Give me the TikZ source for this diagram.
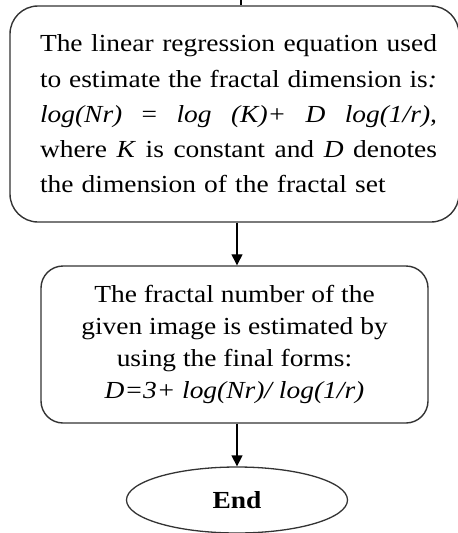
\documentclass[tikz,border=0pt]{standalone}
\usepackage{fontspec}
\setmainfont{Liberation Serif}[FakeStretch=1.12]
\usetikzlibrary{shapes.geometric,arrows.meta}
\newcommand{\fullline}[1]{\leavevmode\hspace*{8pt}\hbox to 397pt{\spaceskip=0pt\xspaceskip=0pt\relax #1}}
\begin{document}
\begin{tikzpicture}[x=1pt,y=1pt,
  boxstyle/.style={draw=black!80,line width=1.4pt,rounded corners=28pt,inner sep=0pt},
  arrowstyle/.style={draw=black,line width=1.3pt,-{Triangle[length=11pt,width=11pt]}},
  txt/.style={font=\fontsize{24.5}{35.2}\selectfont}]
\useasboundingbox (0,0) rectangle (458,-533);
\node[boxstyle,minimum width=449pt,minimum height=216pt,text width=405pt,align=left,txt]
  (top) at (234.5,-114) {\fullline{The linear regression equation used}\\
  \fullline{to estimate the fractal dimension is\textit{:}}\\
  \fullline{\textit{log(Nr)} = \textit{log} \textit{(K)+} \textit{D} \textit{log(1/r),}}\\
  \fullline{where \textit{K} is constant and \textit{D} denotes}\\
  \hspace*{8pt}the dimension of the fractal set};
\node[boxstyle,rounded corners=22pt,minimum width=387pt,minimum height=157pt,align=center,
  font=\fontsize{24.5}{31.7}\selectfont]
  (mid) at (234.5,-344.5) {The fractal number of the\\ given image is estimated by\\ using the final forms:\\ \textit{D=3+ log(Nr)/ log(1/r)}};
\node[ellipse,draw=black!80,line width=1.3pt,minimum width=221pt,minimum height=66pt,inner sep=0pt,
  font=\fontsize{24.5}{29}\selectfont\bfseries] (e) at (237,-500) {End};
\coordinate (stub) at (241,0);
\draw[line width=1.3pt] (stub) -- (top.north -| stub);
\draw[arrowstyle] (top.south -| e.north) -- (mid.north -| e.north);
\draw[arrowstyle] (mid.south -| e.north) -- (e.north);
\end{tikzpicture}
\end{document}
